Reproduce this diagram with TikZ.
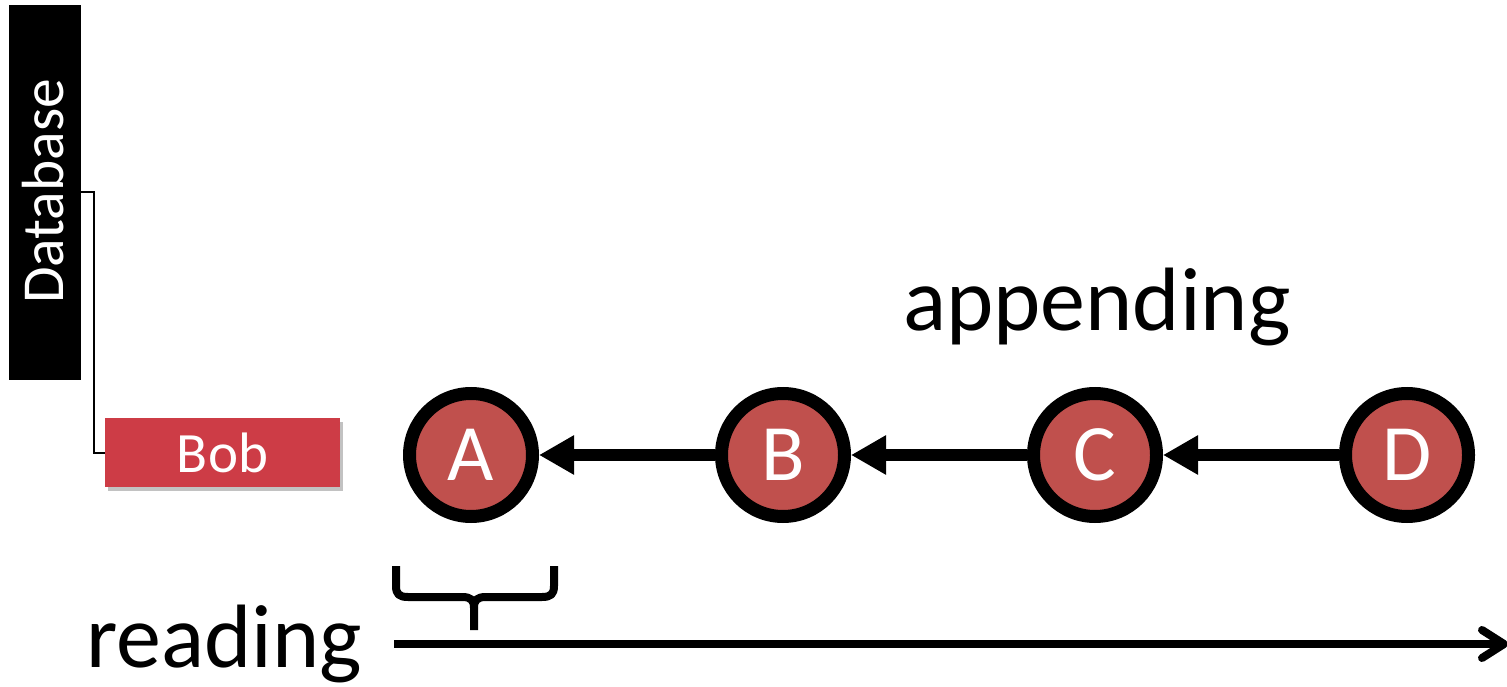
\documentclass[tikz,border=0pt]{standalone}
\usepackage{fontspec}
\setmainfont{Carlito}
\usetikzlibrary{arrows.meta,shadows,calc}
\definecolor{nodered}{HTML}{C0504D}
\definecolor{bobred}{HTML}{CD3C46}
\begin{document}
\begin{tikzpicture}[x=1pt,y=-1pt,
  commit/.style={circle,draw=black,line width=13pt,fill=nodered,minimum size=123pt,inner sep=0pt,text=white,font=\fontsize{80}{90}\selectfont},
  link/.style={line width=12pt,-{Triangle[length=35pt,width=37pt]}},
  dbbox/.style={fill=black,minimum width=72pt,minimum height=375pt,inner sep=0pt},
  bobbox/.style={fill=bobred,minimum width=235pt,minimum height=69pt,inner sep=0pt,text=white,font=\fontsize{57}{66}\selectfont,
    drop shadow={shadow xshift=3pt,shadow yshift=-4pt,fill=black!40,opacity=0.6}},
  bigtext/.style={font=\fontsize{90}{100}\selectfont,inner sep=0pt}]
\useasboundingbox (0,0) rectangle (1507,687);
\node[dbbox] (db) at (45,192.5) {};
\node[rotate=90,text=white,font=\fontsize{59.5}{68}\selectfont,inner sep=0pt] (dbt) at (43,191.5) {Database};
\node[bobbox] (bob) at (222.5,452.5) {Bob};
\draw[line width=2pt] (db.east) -- ++(13,0) |- (bob.west);
\node[commit] (A) at (471,455) {A};
\node[commit] (B) at (783,455) {B};
\node[commit] (C) at (1095,455) {C};
\node[commit] (D) at (1407,455) {D};
\draw[link] (B) -- (A);
\draw[link] (C) -- (B);
\draw[link] (D) -- (C);
\node[bigtext,anchor=base west] (app) at (903,330) {appending};
\node[bigtext,anchor=base west] (read) at (86,667) {reading};
\coordinate (rs) at (394,644);
\coordinate (re) at (1504,644);
\draw[line width=8pt] (rs) -- (re);
\draw[line width=8pt,line cap=round,line join=round] ($(re)+(-22,-14)$) -- (re) -- ($(re)+(-22,14)$);
\draw[line width=8pt,line join=round] (396,566) -- (396,586) .. controls (396,594) and (399,597) .. (408,597) -- (462,597) .. controls (471,597) and (474,600) .. (474,608) -- (474,630);
\draw[line width=8pt,line join=round] (554,566) -- (554,586) .. controls (554,594) and (551,597) .. (542,597) -- (486,597) .. controls (477,597) and (474,600) .. (474,608);
\end{tikzpicture}
\end{document}
